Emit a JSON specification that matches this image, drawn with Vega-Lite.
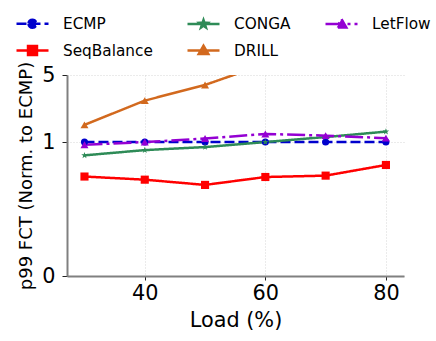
{
  "$schema": "https://vega.github.io/schema/vega-lite/v6.json",
  "width": 337,
  "height": 201,
  "autosize": {"type": "none"},
  "padding": {"left": 67, "top": 75, "right": 32, "bottom": 65},
  "background": "white",
  "config": {
    "view": {"stroke": null},
    "font": "DejaVu Sans",
    "axis": {
      "domainColor": "#808080",
      "domainWidth": 2,
      "tickColor": "#222222",
      "tickWidth": 1,
      "tickSize": 4,
      "grid": true,
      "gridColor": "#cccccc",
      "gridDash": [1, 2],
      "gridWidth": 0.8,
      "labelFont": "DejaVu Sans",
      "labelFontSize": 20.8,
      "labelColor": "black",
      "titleFont": "DejaVu Sans",
      "titleFontWeight": "normal",
      "titleColor": "black"
    }
  },
  "data": {
    "values": [
      {"load": 30, "series": "ECMP", "fct": 1.0},
      {"load": 40, "series": "ECMP", "fct": 1.0},
      {"load": 50, "series": "ECMP", "fct": 1.0},
      {"load": 60, "series": "ECMP", "fct": 1.0},
      {"load": 70, "series": "ECMP", "fct": 1.0},
      {"load": 80, "series": "ECMP", "fct": 1.0},
      {"load": 30, "series": "SeqBalance", "fct": 0.42},
      {"load": 40, "series": "SeqBalance", "fct": 0.387},
      {"load": 50, "series": "SeqBalance", "fct": 0.337},
      {"load": 60, "series": "SeqBalance", "fct": 0.415},
      {"load": 70, "series": "SeqBalance", "fct": 0.43},
      {"load": 80, "series": "SeqBalance", "fct": 0.565},
      {"load": 30, "series": "CONGA", "fct": 0.72},
      {"load": 40, "series": "CONGA", "fct": 0.82},
      {"load": 50, "series": "CONGA", "fct": 0.884},
      {"load": 60, "series": "CONGA", "fct": 1.0},
      {"load": 70, "series": "CONGA", "fct": 1.13},
      {"load": 80, "series": "CONGA", "fct": 1.29},
      {"load": 30, "series": "DRILL", "fct": 1.52},
      {"load": 40, "series": "DRILL", "fct": 2.72},
      {"load": 50, "series": "DRILL", "fct": 3.95},
      {"load": 60, "series": "DRILL", "fct": 6.5},
      {"load": 70, "series": "DRILL", "fct": 8.0},
      {"load": 80, "series": "DRILL", "fct": 10.0},
      {"load": 30, "series": "LetFlow", "fct": 0.936},
      {"load": 40, "series": "LetFlow", "fct": 1.0},
      {"load": 50, "series": "LetFlow", "fct": 1.09},
      {"load": 60, "series": "LetFlow", "fct": 1.22},
      {"load": 70, "series": "LetFlow", "fct": 1.17},
      {"load": 80, "series": "LetFlow", "fct": 1.1}
    ]
  },
  "encoding": {
    "x": {
      "field": "load",
      "type": "quantitative",
      "scale": {"domain": [27.1, 83], "nice": false, "zero": false},
      "axis": {
        "values": [40, 60, 80],
        "title": "Load (%)",
        "titleFontSize": 20.8,
        "labelPadding": 3,
        "titlePadding": 8,
        "labelFlush": false
      }
    },
    "y": {
      "field": "fct",
      "type": "quantitative",
      "scale": {"type": "symlog", "constant": 0.045, "domain": [0, 5], "nice": false, "zero": false},
      "axis": {
        "values": [0, 1, 5],
        "title": "p99 FCT (Norm. to ECMP)",
        "titleFontSize": 18,
        "labelPadding": 7,
        "tickSize": 5,
        "titlePadding": 6
      }
    },
    "color": {
      "field": "series",
      "type": "nominal",
      "scale": {
        "domain": ["ECMP", "SeqBalance", "CONGA", "DRILL", "LetFlow"],
        "range": ["#0000cd", "#ff0000", "#2e8b57", "#d2691e", "#9400d3"]
      },
      "legend": {
        "values": ["ECMP", "CONGA", "LetFlow", "SeqBalance", "DRILL"],
        "title": null,
        "orient": "none",
        "legendX": -52,
        "legendY": -69,
        "direction": "horizontal",
        "columns": 3,
        "columnPadding": 29,
        "rowPadding": -6,
        "padding": 0,
        "symbolSize": 1024,
        "symbolStrokeWidth": 2.5,
        "labelFont": "DejaVu Sans",
        "labelFontSize": 15.3,
        "labelColor": "black",
        "labelOffset": 13,
        "labelLimit": 300
      }
    }
  },
  "layer": [
    {
      "mark": {"type": "line", "strokeWidth": 2.5, "clip": true},
      "encoding": {
        "strokeDash": {
          "field": "series",
          "type": "nominal",
          "scale": {
            "domain": ["ECMP", "SeqBalance", "CONGA", "DRILL", "LetFlow"],
            "range": [[10, 4], [1, 0], [1, 0], [1, 0], [18, 4, 3, 4]]
          }
        }
      }
    },
    {
      "transform": [{"filter": "datum.series === 'ECMP'"}],
      "mark": {"type": "point", "shape": "circle", "filled": true, "opacity": 1, "size": 50, "clip": true}
    },
    {
      "transform": [{"filter": "datum.series === 'SeqBalance'"}],
      "mark": {"type": "point", "shape": "square", "filled": true, "opacity": 1, "size": 66, "clip": true}
    },
    {
      "transform": [{"filter": "datum.series === 'CONGA'"}],
      "mark": {"type": "point", "shape": "M0,-1.15L0.27,-0.37L1.09,-0.355L0.436,0.142L0.675,0.93L0,0.46L-0.675,0.93L-0.436,0.142L-1.09,-0.355L-0.27,-0.37Z", "filled": true, "opacity": 1, "size": 36, "clip": true}
    },
    {
      "transform": [{"filter": "datum.series === 'DRILL'"}],
      "mark": {"type": "point", "shape": "triangle-up", "filled": true, "opacity": 1, "size": 64, "clip": true}
    },
    {
      "transform": [{"filter": "datum.series === 'LetFlow'"}],
      "mark": {"type": "point", "shape": "triangle-up", "filled": true, "opacity": 1, "size": 64, "clip": true}
    },
    {
      "transform": [{"filter": "datum.fct < 0"}],
      "mark": {"type": "point", "filled": true},
      "encoding": {
        "shape": {
          "field": "series",
          "type": "nominal",
          "scale": {
            "domain": ["ECMP", "SeqBalance", "CONGA", "DRILL", "LetFlow"],
            "range": [
              "M-1,0H1M-0.25,0A0.25,0.25 0 1,0 0.25,0A0.25,0.25 0 1,0 -0.25,0Z",
              "M-1,0H1M-0.28,-0.28H0.28V0.28H-0.28Z",
              "M-1,0H1M0,-0.255L0.06,-0.083L0.242,-0.079L0.097,0.032L0.15,0.206L0,0.102L-0.15,0.206L-0.097,0.032L-0.242,-0.079L-0.06,-0.083Z",
              "M-1,0H1M0,-0.3L0.3,0.22L-0.3,0.22Z",
              "M-1,0H1M0,-0.3L0.3,0.22L-0.3,0.22Z"
            ]
          }
        },
        "strokeDash": {"field": "series", "type": "nominal"}
      }
    }
  ]
}
